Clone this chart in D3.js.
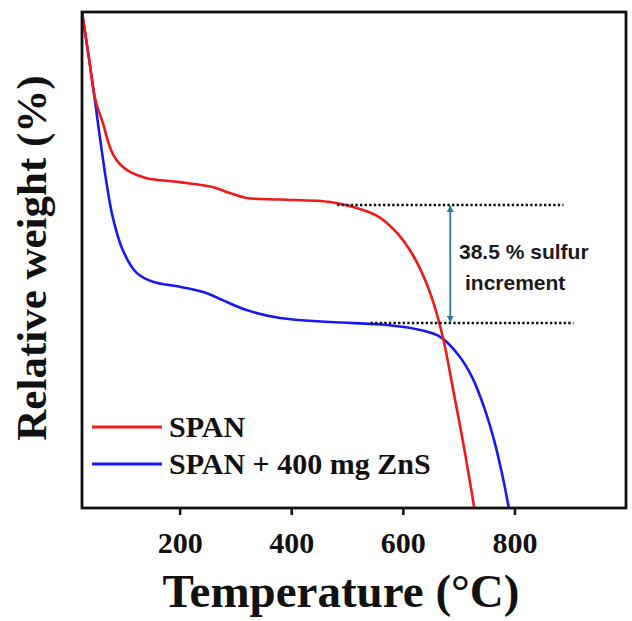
<!DOCTYPE html>
<html>
<head>
<meta charset="UTF-8">
<script src="https://cdn.jsdelivr.net/npm/d3@7"></script>
<style>
  body { margin: 0; background: #fff; }
</style>
</head>
<body>
<svg id="vis" width="632" height="621"></svg>
<script>
// temperatures (°C) and relative weight
var spanTemp = [25, 38, 49, 63, 72, 81, 94, 112, 141, 200, 259, 290, 320, 380, 470, 511, 554, 590, 619, 642, 660, 674, 690, 706, 721, 728];
var spanWeight = [100, 90.3, 82.3, 77.4, 73.8, 71.2, 69.2, 67.7, 66.5, 65.7, 64.7, 63.5, 62.5, 62.2, 61.7, 60.7, 58.9, 55.4, 50.8, 45.4, 39.5, 33.3, 24.0, 14.5, 4.8, 0];

var znsTemp = [25, 38, 48, 56, 69, 80, 98, 123, 152, 200, 249, 277, 320, 380, 470, 572, 631, 667, 700, 725, 746, 764, 779, 790];
var znsWeight = [100, 90.3, 82.3, 75.6, 65.5, 58.7, 52, 47.4, 45.6, 44.6, 43.3, 41.9, 39.9, 38.3, 37.5, 36.9, 35.9, 34.5, 30.8, 26.2, 20.2, 13.5, 6.3, 0];

var xTicks = [200, 400, 600, 800];
var seriesNames = ["SPAN", "SPAN + 400 mg ZnS"];
var seriesColors = ["#f01818", "#1818f0"];

// dotted guide levels and the annotation
var guideUpper = {y: 61.1, x0: 482, x1: 888};
var guideLower = {y: 37.3, x0: 542, x1: 906};
var arrowTemp = 685;
var noteLines = ["38.5 % sulfur", "increment"];

var margin = {left: 82, top: 12, right: 6, bottom: 113};
var W = 632 - margin.left - margin.right;
var H = 621 - margin.top - margin.bottom;

var svg = d3.select("#vis");
var g = svg.append("g").attr("transform", "translate(" + margin.left + "," + margin.top + ")");

var x = d3.scaleLinear().domain([25, 1000]).range([0, W]);
var y = d3.scaleLinear().domain([0, 100]).range([H, 0]);

var serif = "'Liberation Serif', 'Times New Roman', serif";

// x axis
var xAxis = d3.axisBottom(x).tickValues(xTicks).tickSize(7).tickPadding(17);
var gx = g.append("g").attr("transform", "translate(0," + H + ")").call(xAxis);
gx.select(".domain").remove();
gx.selectAll(".tick line").attr("stroke", "#111").attr("stroke-width", 2.5);
gx.selectAll(".tick text")
  .attr("font-family", serif).attr("font-weight", "bold")
  .attr("font-size", 30).attr("fill", "#111");

var defs = svg.append("defs");
defs.append("clipPath").attr("id", "clip")
  .append("rect").attr("width", W).attr("height", H);

// curves
var line = d3.line()
  .x(function(d) { return x(d[0]); })
  .y(function(d) { return y(d[1]); })
  .curve(d3.curveCatmullRom.alpha(0.5));

var spanData = d3.zip(spanTemp, spanWeight);
var znsData = d3.zip(znsTemp, znsWeight);

var gLines = g.append("g").attr("clip-path", "url(#clip)");
gLines.append("path").datum(znsData)
  .attr("d", line).attr("fill", "none")
  .attr("stroke", seriesColors[1]).attr("stroke-width", 2.6);
gLines.append("path").datum(spanData)
  .attr("d", line).attr("fill", "none")
  .attr("stroke", seriesColors[0]).attr("stroke-width", 2.6);

// dotted guides
[guideUpper, guideLower].forEach(function(gd) {
  g.append("line")
    .attr("x1", x(gd.x0)).attr("x2", x(gd.x1))
    .attr("y1", y(gd.y)).attr("y2", y(gd.y))
    .attr("stroke", "#111").attr("stroke-width", 2.6)
    .attr("stroke-dasharray", "2.4,2.2");
});

// double arrow
var teal = "#2c7a98";
["arrStart", "arrEnd"].forEach(function(id, i) {
  defs.append("marker").attr("id", id)
    .attr("viewBox", "0 0 10 10").attr("refX", 9).attr("refY", 5)
    .attr("markerWidth", 7).attr("markerHeight", 7)
    .attr("markerUnits", "userSpaceOnUse")
    .attr("orient", i == 0 ? "auto-start-reverse" : "auto")
    .append("path").attr("d", "M0,0 L10,5 L0,10 z").attr("fill", teal);
});
g.append("line")
  .attr("x1", x(arrowTemp)).attr("x2", x(arrowTemp))
  .attr("y1", y(guideUpper.y) + 1).attr("y2", y(guideLower.y) - 1)
  .attr("stroke", teal).attr("stroke-width", 1.8)
  .attr("marker-start", "url(#arrStart)").attr("marker-end", "url(#arrEnd)");

var note = g.append("text")
  .attr("font-family", "'Liberation Sans', Arial, sans-serif")
  .attr("font-weight", "bold").attr("font-size", 21).attr("fill", "#1a1a1a");
note.append("tspan").attr("x", 459 - margin.left).attr("y", 259 - margin.top).text(noteLines[0]);
note.append("tspan").attr("x", 465 - margin.left).attr("y", 290 - margin.top).text(noteLines[1]);

// legend
var legend = g.append("g").attr("transform", "translate(10,415)");
seriesNames.forEach(function(name, i) {
  var row = legend.append("g").attr("transform", "translate(0," + (i * 37) + ")");
  row.append("line").attr("x1", 0).attr("x2", 70).attr("y1", 0).attr("y2", 0)
    .attr("stroke", seriesColors[i]).attr("stroke-width", 3);
  row.append("text").attr("x", 77).attr("y", 10)
    .attr("font-family", serif).attr("font-weight", "bold")
    .attr("font-size", 30).attr("fill", "#111").text(name);
});

// frame
g.append("rect").attr("width", W).attr("height", H)
  .attr("fill", "none").attr("stroke", "#111").attr("stroke-width", 2.8);

// axis titles
svg.append("text")
  .attr("x", 341).attr("y", 607)
  .attr("text-anchor", "middle")
  .attr("font-family", serif).attr("font-weight", "bold")
  .attr("font-size", 47).attr("fill", "#111")
  .text("Temperature (°C)");

svg.append("text")
  .attr("transform", "translate(46,258) rotate(-90)")
  .attr("text-anchor", "middle")
  .attr("font-family", serif).attr("font-weight", "bold")
  .attr("font-size", 43).attr("fill", "#111")
  .text("Relative weight (%)");
</script>
</body>
</html>
